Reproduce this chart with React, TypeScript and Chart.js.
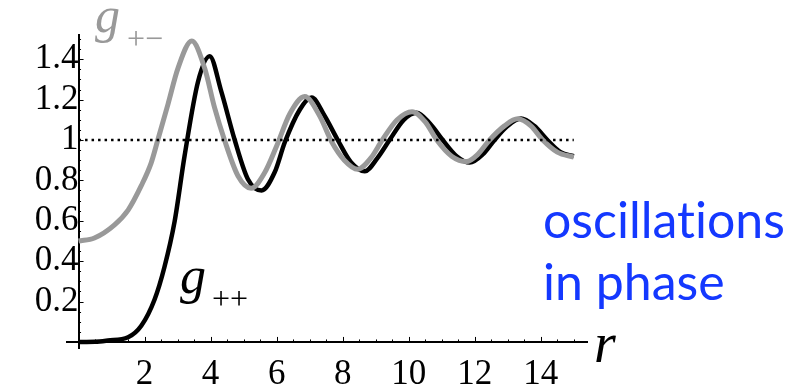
import React, { useEffect, useRef } from "react";
import { Chart, registerables } from "chart.js";

Chart.register(...registerables);

// g_{+-} (grey curve)
const rPlusMinus = [0, 0.48, 1.09, 1.5, 1.9, 2.2, 2.4, 2.71, 3.01, 3.43, 3.82, 4.12, 4.42, 4.83, 5.23, 5.64, 6.0, 6.4, 6.85, 7.3, 7.67, 8.05, 8.45, 8.85, 9.2, 9.65, 10.1, 10.5, 10.85, 11.3, 11.75, 12.1, 12.45, 12.9, 13.3, 13.7, 14.06, 14.5, 15.0];
const gPlusMinus = [0.5, 0.515, 0.58, 0.653, 0.774, 0.887, 1.0, 1.178, 1.355, 1.49, 1.355, 1.16, 1.0, 0.822, 0.761, 0.839, 0.97, 1.13, 1.215, 1.12, 0.99, 0.9, 0.855, 0.91, 1.0, 1.1, 1.14, 1.09, 1.0, 0.92, 0.893, 0.93, 1.0, 1.07, 1.105, 1.07, 1.0, 0.94, 0.915];

// g_{++} (black curve)
const rPlusPlus = [0, 0.5, 0.89, 1.5, 1.9, 2.3, 2.6, 2.91, 3.21, 3.62, 3.97, 4.32, 4.73, 5.13, 5.54, 5.94, 6.25, 6.7, 7.06, 7.45, 7.85, 8.25, 8.67, 9.05, 9.42, 9.85, 10.24, 10.65, 11.03, 11.45, 11.85, 12.25, 12.6, 13.0, 13.4, 13.8, 14.2, 14.6, 15.0];
const gPlusPlus = [0.0, 0.001, 0.007, 0.023, 0.08, 0.209, 0.37, 0.597, 0.92, 1.29, 1.415, 1.242, 1.0, 0.806, 0.75, 0.84, 0.99, 1.15, 1.21, 1.12, 1.0, 0.89, 0.845, 0.91, 1.0, 1.1, 1.135, 1.08, 1.0, 0.92, 0.888, 0.93, 1.0, 1.07, 1.106, 1.07, 1.0, 0.94, 0.92];

// reference line g = 1
const rReference = [0, 15];
const gReference = [1, 1];

const xTickValues = [2, 4, 6, 8, 10, 12, 14];
const yTickValues = [0.2, 0.4, 0.6, 0.8, 1.0, 1.2, 1.4];

const SERIF = "Liberation Serif";

const toPoints = (xs: number[], ys: number[]) => xs.map((x, i) => ({ x, y: ys[i] }));

const tickMarks = {
  id: "tickMarks",
  beforeDatasetsDraw(chart: any) {
    const { ctx } = chart;
    const xs = chart.scales.x;
    const ys = chart.scales.y;
    const x0 = xs.getPixelForValue(0);
    const y0 = ys.getPixelForValue(0);
    ctx.save();
    ctx.strokeStyle = "#000";
    ctx.lineWidth = 1;
    for (let i = 1; i <= 30; i++) {
      const v = i * 0.5;
      const px = Math.round(xs.getPixelForValue(v)) + 0.5;
      const len = i % 4 === 0 ? 5 : 2.5;
      ctx.beginPath();
      ctx.moveTo(px, y0);
      ctx.lineTo(px, y0 - len);
      ctx.stroke();
    }
    for (let i = 1; i <= 30; i++) {
      const v = i * 0.05;
      const py = Math.round(ys.getPixelForValue(v)) + 0.5;
      const len = i % 4 === 0 ? 5 : 2.5;
      ctx.beginPath();
      ctx.moveTo(x0, py);
      ctx.lineTo(x0 + len, py);
      ctx.stroke();
    }
    ctx.restore();
  },
};

export default function App() {
  const ref = useRef<HTMLCanvasElement | null>(null);
  useEffect(() => {
    if (!ref.current) return;
    const chart = new Chart(ref.current, {
      type: "line",
      data: {
        datasets: [
          {
            label: "g=1",
            data: toPoints(rReference, gReference),
            borderColor: "#000",
            borderWidth: 2.5,
            borderDash: [2.5, 4],
            pointRadius: 0,
            fill: false,
          },
          {
            label: "g+-",
            data: toPoints(rPlusMinus, gPlusMinus),
            borderColor: "#999999",
            borderWidth: 5,
            pointRadius: 0,
            cubicInterpolationMode: "monotone",
            fill: false,
          },
          {
            label: "g++",
            data: toPoints(rPlusPlus, gPlusPlus),
            borderColor: "#000000",
            borderWidth: 4.5,
            pointRadius: 0,
            cubicInterpolationMode: "monotone",
            fill: false,
          },
        ],
      },
      options: {
        responsive: false,
        animation: false,
        devicePixelRatio: 1,
        layout: { padding: { left: 67, right: 213, top: 27, bottom: 36 } },
        plugins: { legend: { display: false }, tooltip: { enabled: false } },
        scales: {
          x: {
            type: "linear",
            min: -0.35,
            max: 15.4,
            position: { y: 0 } as any,
            grid: { display: false, drawTicks: false },
            border: { display: true, color: "#000", width: 2 },
            afterBuildTicks: (s: any) => {
              s.ticks = xTickValues.map((v) => ({ value: v }));
            },
            ticks: {
              color: "#000",
              font: { family: SERIF, size: 35 },
              padding: 12,
              maxRotation: 0,
              autoSkip: false,
              callback: (v: any) => String(v),
            },
          },
          y: {
            type: "linear",
            min: -0.03,
            max: 1.52,
            position: { x: 0 } as any,
            grid: { display: false, drawTicks: false },
            border: { display: true, color: "#000", width: 2 },
            afterBuildTicks: (s: any) => {
              s.ticks = yTickValues.map((v) => ({ value: v }));
            },
            ticks: {
              color: "#000",
              font: { family: SERIF, size: 35 },
              padding: 14,
              autoSkip: false,
              callback: (v: any) => String(Math.round(Number(v) * 10) / 10),
            },
          },
        },
      },
      plugins: [tickMarks],
    });
    return () => chart.destroy();
  }, []);

  const serifStyle = { fontFamily: SERIF } as const;
  const blue = { fontSize: 50, fill: "#1438ff", style: { fontFamily: "Lato", fontVariantLigatures: "none" as const } };

  return (
    <div style={{ position: "absolute", left: 0, top: 0, width: 800, height: 384, background: "#fff" }}>
      <canvas ref={ref} width={800} height={384} style={{ position: "absolute", left: 0, top: 0 }} />
      <svg width={800} height={384} style={{ position: "absolute", left: 0, top: 0, pointerEvents: "none" }}>
        <text x={95} y={32} style={serifStyle} fontStyle="italic" fontSize={50} fill="#999999">g</text>
        <text x={127} y={49} style={serifStyle} fontSize={32} fill="#999999">+−</text>
        <text x={180} y={293} style={serifStyle} fontStyle="italic" fontSize={52} fill="#000">g</text>
        <text x={212} y={309} style={serifStyle} fontSize={32} fill="#000">++</text>
        <text x={594} y={362} style={serifStyle} fontStyle="italic" fontSize={56} fill="#000">r</text>
        <text x={543} y={238} {...blue}>oscillations</text>
        <text x={543} y={300} {...blue}>in phase</text>
      </svg>
    </div>
  );
}
